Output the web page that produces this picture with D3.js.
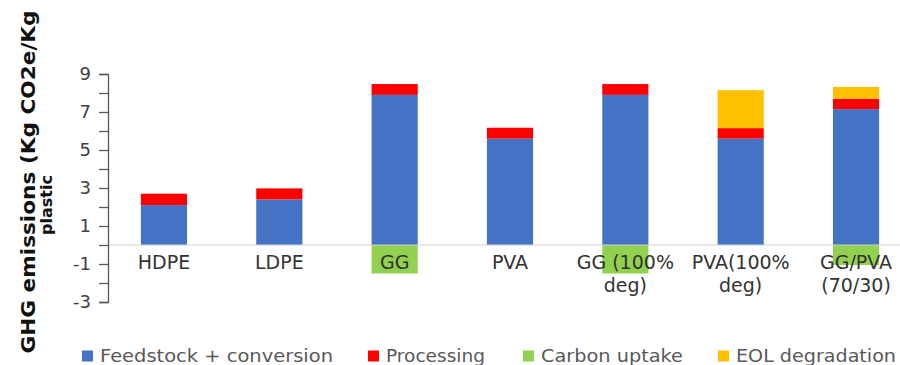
<!DOCTYPE html>
<html>
<head>
<meta charset="utf-8">
<script src="https://cdn.jsdelivr.net/npm/d3@7"></script>
<style>
  html, body { margin: 0; padding: 0; background: #fff; }
  svg { display: block; font-family: "DejaVu Sans", Verdana, sans-serif; }
</style>
</head>
<body>
<svg id="chart" width="900" height="365"></svg>
<script>
// Materials (each label may wrap onto two lines)
const categories = ["HDPE", "LDPE", "GG", "PVA", "GG (100% deg)", "PVA(100% deg)", "GG/PVA (70/30)"];
const categoryLines = [["HDPE"], ["LDPE"], ["GG"], ["PVA"], ["GG (100%", "deg)"], ["PVA(100%", "deg)"], ["GG/PVA", "(70/30)"]];

// GHG contributions, kg CO2e per kg plastic
const feedstock   = [2.1, 2.4, 7.9, 5.6, 7.9, 5.6, 7.15];
const processing  = [0.6, 0.58, 0.57, 0.57, 0.57, 0.55, 0.55];
const carbonUptake = [0, 0, -1.5, 0, -1.5, 0, -1.05];
const eolDegradation = [0, 0, 0, 0, 0, 2.0, 0.62];

const seriesNames = ["Feedstock + conversion", "Processing", "Carbon uptake", "EOL degradation"];
const seriesColors = ["#4472C4", "#FF0000", "#92D050", "#FFC000"];
const yTicks = [-3, -1, 1, 3, 5, 7, 9];

const keys = ["feedstock", "processing", "carbon", "eol"];
const rows = categories.map((c, i) => ({
  category: c,
  feedstock: feedstock[i],
  processing: processing[i],
  carbon: carbonUptake[i],
  eol: eolDegradation[i]
}));

const svg = d3.select("#chart");

const x = d3.scaleBand()
  .domain(categories)
  .range([106.3, 913.7])
  .paddingInner(0.6)
  .paddingOuter(0.3);

const y = d3.scaleLinear().domain([-3, 9]).range([302, 74]);

const stacked = d3.stack().keys(keys).offset(d3.stackOffsetDiverging)(rows);

// Stacked bars
svg.append("g")
  .selectAll("g")
  .data(stacked)
  .join("g")
  .attr("fill", (d, i) => seriesColors[i])
  .selectAll("rect")
  .data(d => d)
  .join("rect")
  .attr("x", d => x(d.data.category))
  .attr("width", x.bandwidth())
  .attr("y", d => y(Math.max(d[0], d[1])))
  .attr("height", d => Math.abs(y(d[0]) - y(d[1])));

// Zero line
svg.append("line")
  .attr("x1", 108).attr("x2", 900)
  .attr("y1", y(0)).attr("y2", y(0))
  .attr("stroke", "#d4d4d4")
  .attr("stroke-width", 1.2);

// Y axis: a tick at every unit, labels on odd values
const yAxis = d3.axisLeft(y)
  .tickValues(d3.range(-3, 10))
  .tickSize(9)
  .tickPadding(8)
  .tickFormat(v => yTicks.includes(v) ? d3.format("d")(v).replace("−", "-") : "");

const gy = svg.append("g")
  .attr("transform", "translate(108,0)")
  .call(yAxis);
gy.select(".domain").attr("stroke", "#595959").attr("stroke-width", 1.3);
gy.selectAll(".tick line").attr("stroke", "#595959").attr("stroke-width", 1.3);
gy.selectAll(".tick text")
  .attr("fill", "#404040")
  .style("font-size", "18px")
  .style("font-family", "'DejaVu Sans', Verdana, sans-serif");

// Category labels under the zero line
const catG = svg.append("g");
categories.forEach((c, i) => {
  const cx = x(c) + x.bandwidth() / 2;
  categoryLines[i].forEach((line, k) => {
    catG.append("text")
      .attr("x", cx)
      .attr("y", 269 + k * 22.5)
      .attr("text-anchor", "middle")
      .attr("fill", "#333333")
      .style("font-size", "19px")
      .text(line);
  });
});

// Y axis title
const title = svg.append("g").attr("transform", "rotate(-90)");
title.append("text")
  .attr("x", -182).attr("y", 34.5)
  .attr("text-anchor", "middle")
  .attr("font-weight", "bold")
  .attr("fill", "#111")
  .style("font-size", "20px")
  .attr("textLength", 343)
  .attr("lengthAdjust", "spacingAndGlyphs")
  .text("GHG emissions (Kg CO2e/Kg");
title.append("text")
  .attr("x", -205).attr("y", 52)
  .attr("text-anchor", "middle")
  .attr("font-weight", "bold")
  .attr("fill", "#111")
  .style("font-size", "16px")
  .text("plastic");

// Legend
const legendX = [82, 368, 523, 718];
const legendW = [233, 99, 142, 160];
const legend = svg.append("g");
seriesNames.forEach((name, i) => {
  legend.append("rect")
    .attr("x", legendX[i]).attr("y", 350.5)
    .attr("width", 11).attr("height", 11)
    .attr("fill", seriesColors[i]);
  legend.append("text")
    .attr("x", legendX[i] + 18).attr("y", 362)
    .attr("fill", "#595959")
    .style("font-size", "17.5px")
    .attr("textLength", legendW[i])
    .attr("lengthAdjust", "spacingAndGlyphs")
    .text(name);
});
</script>
</body>
</html>
